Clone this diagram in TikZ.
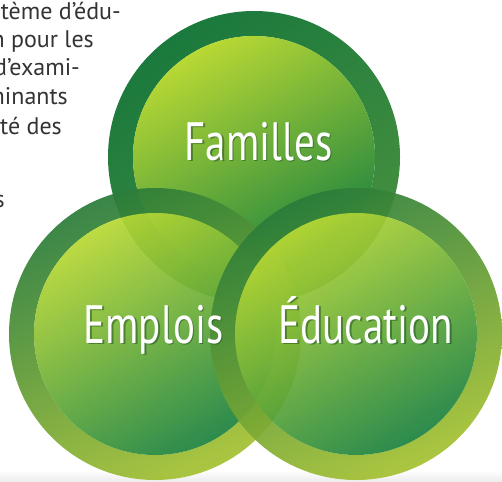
\documentclass[tikz,border=0pt]{standalone}
\usepackage{fontspec}
\setmainfont{PT Sans}
\usepackage{graphicx}
\definecolor{ringDark}{HTML}{1A793D}
\definecolor{ringMid}{HTML}{47903F}
\definecolor{innerLight}{HTML}{B8D834}
\definecolor{innerDark}{HTML}{1C823F}
\definecolor{sideRingDark}{HTML}{2A7C3A}
\definecolor{sideRingLight}{HTML}{A6C232}
\definecolor{bodytext}{HTML}{333333}
\definecolor{shadowgreen}{HTML}{0E3E1A}
\tikzset{
  bodyline/.style={anchor=base east, text=bodytext, inner sep=0pt, font=\fontsize{24}{24}\selectfont},
  title/.style={anchor=base, text=white, inner sep=0pt, font=\fontsize{54}{54}\selectfont},
  titleshadow/.style={anchor=base, text=shadowgreen, opacity=0.45, inner sep=0pt, font=\fontsize{54}{54}\selectfont},
}
\newcommand{\narrow}[1]{\scalebox{0.76}[1]{#1}}
\begin{document}
\begin{tikzpicture}[x=1pt,y=-1pt]
\useasboundingbox (0,0) rectangle (502,481);
\clip (0,0) rectangle (502,481);
% faint ground shadow
\shade[top color=white, bottom color=black!7] (0,470) rectangle (502,481);
% text at top left
\node[bodyline] (l1) at (121,20) {stème d’édu-};
\node[bodyline] (l2) at (94,48) {n pour les};
\node[bodyline] (l3) at (80,76) {d’exami-};
\node[bodyline] (l4) at (68,105) {minants};
\node[bodyline] (l5) at (62,135) {té des};
\node[bodyline] (l6) at (5,207) {s};
% circle centres
\coordinate (ctop) at (254,157);
\coordinate (cleft) at (155,334);
\coordinate (cright) at (356,334);
% top circle
\shade[even odd rule, top color=ringDark, bottom color=ringMid, shading angle=35]
  (ctop) circle[radius=146pt] (ctop) circle[radius=121pt];
\shade[top color=innerLight, bottom color=innerDark, shading angle=30]
  (ctop) circle[radius=121pt];
% left circle
\shade[even odd rule, top color=sideRingDark, bottom color=sideRingLight, shading angle=25, fill opacity=0.93]
  (cleft) circle[radius=146pt] (cleft) circle[radius=121pt];
\shade[top color=innerLight, bottom color=innerDark, shading angle=30, fill opacity=0.93]
  (cleft) circle[radius=121pt];
% right circle
\shade[even odd rule, top color=sideRingDark, bottom color=sideRingLight, shading angle=25, fill opacity=0.93]
  (cright) circle[radius=146pt] (cright) circle[radius=121pt];
\shade[top color=innerLight, bottom color=innerDark, shading angle=30, fill opacity=0.93]
  (cright) circle[radius=121pt];
% titles
\node[titleshadow] (fams) at (260,161.5) {\narrow{Familles}};
\node[title] (fam) at (258.5,160) {\narrow{Familles}};
\node[titleshadow] (emps) at (155,344.5) {\narrow{Emplois}};
\node[title] (emp) at (153.5,343) {\narrow{Emplois}};
\node[titleshadow] (edus) at (367.5,344.5) {\narrow{Éducation}};
\node[title] (edu) at (366,343) {\narrow{Éducation}};
\end{tikzpicture}
\end{document}
